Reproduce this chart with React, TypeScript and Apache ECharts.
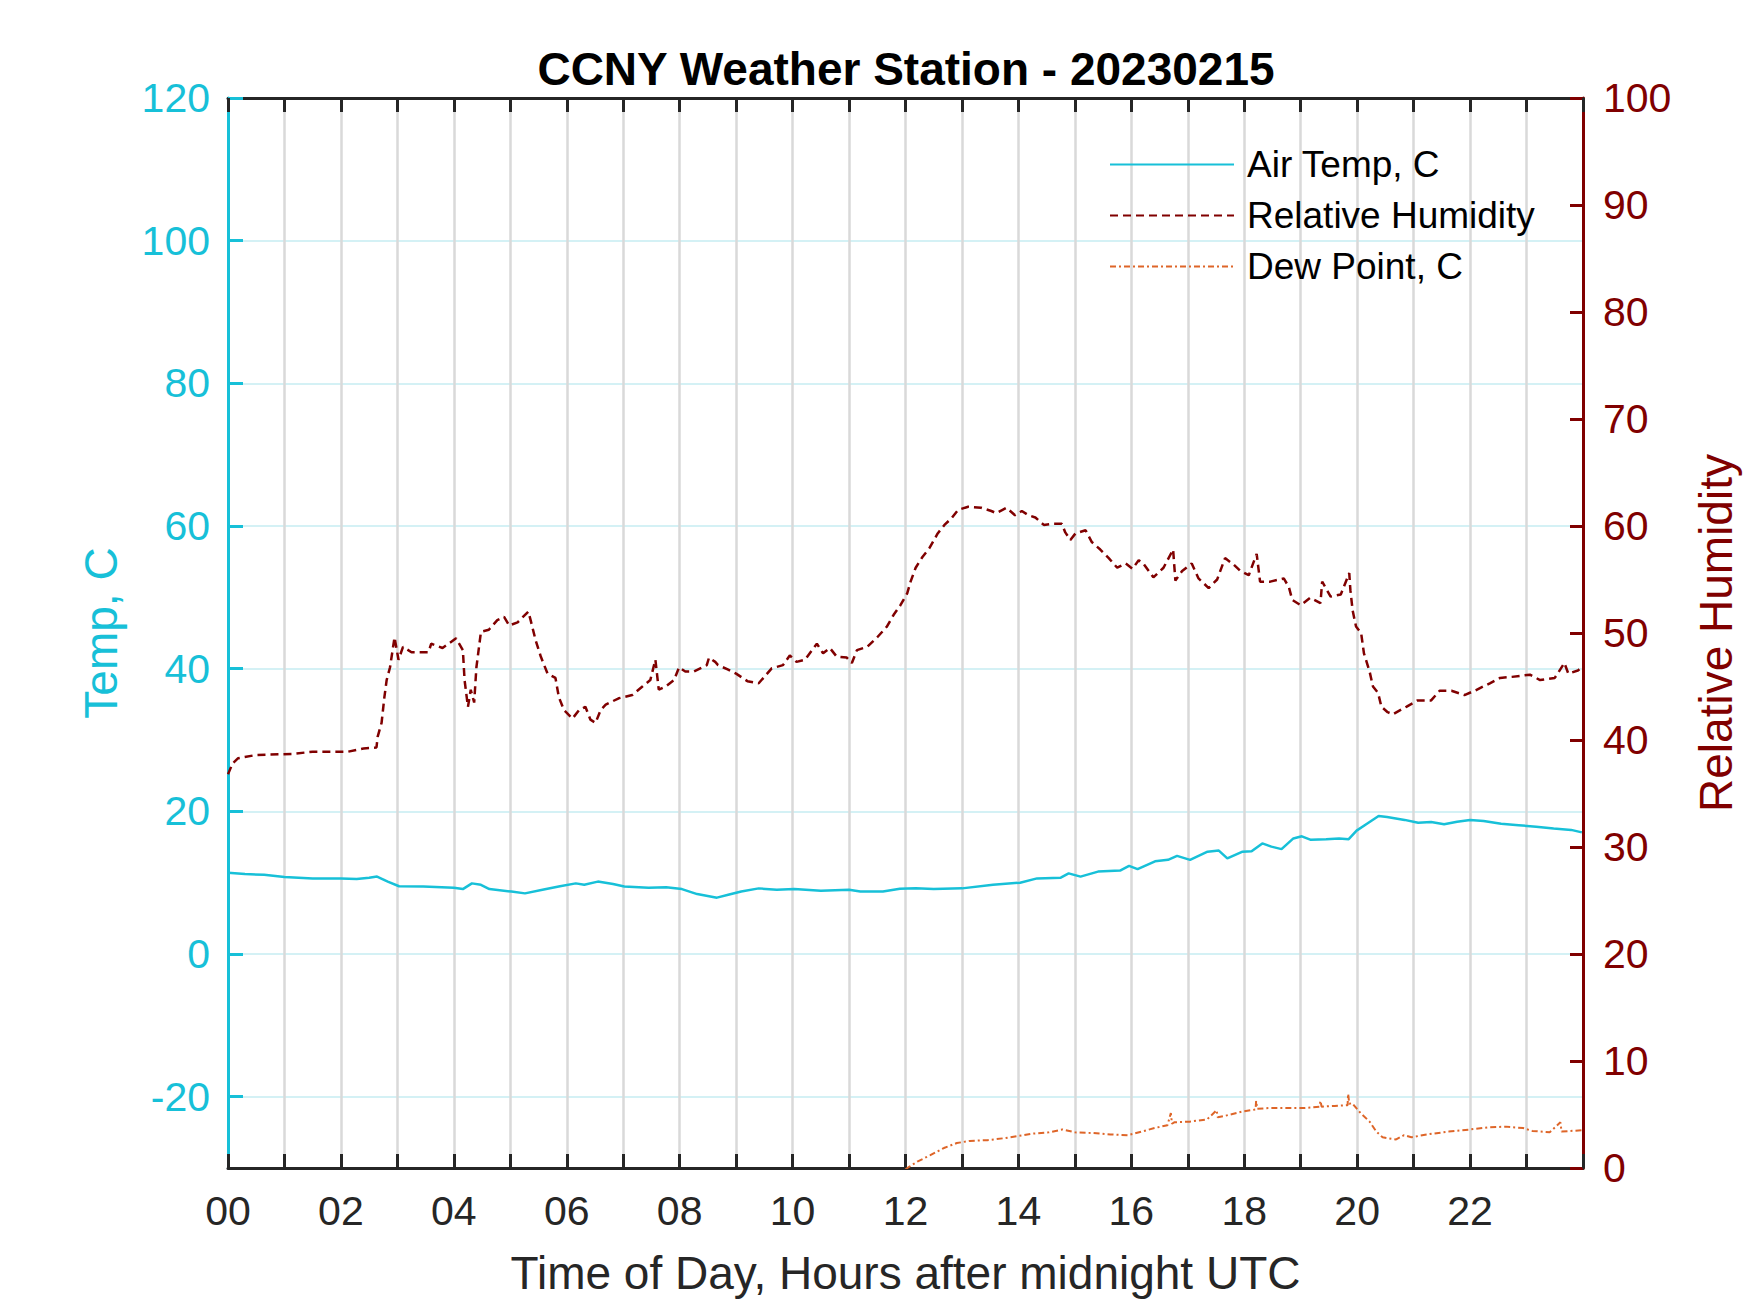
import React, { useEffect, useRef } from "react";
import * as echarts from "echarts";

const FONT = "Liberation Sans, Arial, Helvetica, sans-serif";
const CYAN = "#17C0D8";
const MAROON = "#800000";
const ORANGE = "#DE6528";

const titleText = "CCNY Weather Station - 20230215";
const xName = "Time of Day, Hours after midnight UTC";
const leftName = "Temp, C";
const rightName = "Relative Humidity";
const seriesNames = ["Air Temp, C", "Relative Humidity", "Dew Point, C"];

const tempTicks = [-20, 0, 20, 40, 60, 80, 100, 120];
const xLabelHours = [0, 2, 4, 6, 8, 10, 12, 14, 16, 18, 20, 22];

const tempHours = [
  0.0, 0.3, 0.64, 1.0, 1.5, 2.0, 2.28, 2.5, 2.64, 2.83, 3.03, 3.46, 4.0, 4.16, 4.32, 4.48, 4.63, 5.02, 5.26,
  5.57, 5.88, 6.16, 6.31, 6.55, 6.82, 7.02, 7.45, 7.76, 8.04, 8.31, 8.66, 8.86, 9.09, 9.4, 9.72, 10.03, 10.5,
  11.0, 11.2, 11.6, 11.9, 12.18, 12.5, 13.0, 13.55, 14.03, 14.33, 14.75, 14.89, 15.1, 15.41, 15.8, 15.96,
  16.11, 16.42, 16.65, 16.81, 17.04, 17.35, 17.55, 17.7, 17.97, 18.13, 18.32, 18.48, 18.66, 18.87, 19.02,
  19.18, 19.45, 19.68, 19.85, 19.99, 20.18, 20.38, 20.53, 20.84, 21.08, 21.31, 21.54, 21.77, 22.0, 22.24,
  22.55, 22.86, 23.17, 23.48, 23.79, 23.98,
];
const tempValues = [
  11.4, 11.2, 11.1, 10.8, 10.6, 10.6, 10.5, 10.7, 10.85, 10.15, 9.5, 9.45, 9.3, 9.1, 9.9, 9.7, 9.1, 8.75, 8.5,
  9.0, 9.5, 9.9, 9.7, 10.15, 9.8, 9.45, 9.3, 9.35, 9.1, 8.4, 7.9, 8.3, 8.75, 9.2, 9.0, 9.1, 8.85,
  9.0, 8.75, 8.75, 9.15, 9.2, 9.1, 9.2, 9.7, 10.0, 10.6, 10.7, 11.3, 10.85, 11.55, 11.7, 12.35,
  11.9, 13.0, 13.2, 13.75, 13.2, 14.35, 14.5, 13.4, 14.35, 14.4, 15.5, 15.05, 14.7, 16.2, 16.5,
  16.0, 16.1, 16.2, 16.1, 17.3, 18.3, 19.35, 19.2, 18.8, 18.4, 18.5, 18.2, 18.55, 18.8, 18.65,
  18.25, 18.05, 17.85, 17.6, 17.4, 17.05,
];

const rhHours = [
  0.0, 0.08, 0.18, 0.5, 1.13, 1.5, 2.12, 2.4, 2.63, 2.65, 2.72, 2.77, 2.81, 2.87, 2.95, 3.02, 3.1, 3.25,
  3.55, 3.6, 3.8, 4.04, 4.16, 4.19, 4.25, 4.3, 4.36, 4.4, 4.48, 4.62, 4.77, 4.89, 4.98, 5.13, 5.32, 5.36,
  5.45, 5.54, 5.66, 5.8, 5.86, 5.95, 6.1, 6.22, 6.33, 6.42, 6.51, 6.6, 6.69, 6.92, 7.16, 7.34, 7.48, 7.57,
  7.63, 7.75, 7.9, 7.99, 8.1, 8.25, 8.48, 8.52, 8.63, 8.68, 8.85, 9.0, 9.2, 9.4, 9.63, 9.83, 9.95, 10.07,
  10.22, 10.43, 10.54, 10.66, 10.78, 10.96, 11.05, 11.14, 11.32, 11.5, 11.67, 11.79, 11.91, 12.03, 12.09,
  12.18, 12.3, 12.42, 12.57, 12.69, 12.81, 12.93, 13.11, 13.34, 13.52, 13.61, 13.79, 13.94, 14.06, 14.18,
  14.3, 14.45, 14.6, 14.77, 14.83, 14.92, 15.01, 15.19, 15.3, 15.45, 15.6, 15.75, 15.9, 16.02, 16.13,
  16.21, 16.39, 16.57, 16.74, 16.78, 16.9, 17.07, 17.19, 17.37, 17.52, 17.66, 17.81, 17.93, 18.08, 18.22,
  18.28, 18.46, 18.7, 18.79, 18.85, 19.0, 19.17, 19.35, 19.38, 19.53, 19.71, 19.86, 19.88, 19.92, 19.98,
  20.07, 20.12, 20.22, 20.28, 20.37, 20.43, 20.54, 20.63, 20.87, 21.07, 21.31, 21.46, 21.67, 21.9, 22.08,
  22.35, 22.53, 22.74, 23.06, 23.24, 23.5, 23.67, 23.74, 23.91, 23.98,
];
const rhValues = [
  36.8, 37.8, 38.3, 38.6, 38.7, 38.9, 38.9, 39.2, 39.3, 40.3, 41.6, 44.0, 45.6, 46.8, 49.6, 47.5, 48.7, 48.2,
  48.2, 49.0, 48.6, 49.5, 48.4, 45.6, 43.1, 44.7, 43.5, 46.8, 50.1, 50.3, 51.2, 51.5, 50.7, 51.0, 52.0, 51.2,
  49.3, 47.8, 46.2, 45.8, 44.0, 42.8, 42.0, 42.8, 43.1, 41.9, 41.6, 42.8, 43.3, 43.9, 44.2, 45.0, 45.6, 47.5,
  44.7, 45.0, 45.6, 46.8, 46.4, 46.4, 47.0, 47.7, 47.3, 47.0, 46.6, 46.2, 45.5, 45.3, 46.7, 47.0, 47.9, 47.3,
  47.5, 49.0, 48.1, 48.6, 47.8, 47.7, 47.2, 48.4, 48.7, 49.6, 50.6, 51.7, 52.6, 53.7, 54.8,
  56.1, 57.1, 57.9, 59.3, 60.1, 60.7, 61.5, 61.8, 61.7, 61.4, 61.2, 61.7, 61.0, 61.4, 61.0,
  60.8, 60.1, 60.2, 60.2, 59.4, 58.7, 59.3, 59.6, 58.5, 57.8, 57.0, 56.1, 56.5, 56.0, 56.8,
  56.5, 55.2, 56.1, 57.8, 54.9, 55.8, 56.5, 55.1, 54.2, 55.0, 57.0, 56.4, 55.8, 55.4, 57.4,
  54.8, 54.8, 55.1, 54.3, 53.1, 52.6, 53.3, 52.8, 54.8, 53.4, 53.6, 55.6, 54.0, 52.1, 50.6,
  50.0, 48.1, 46.4, 45.0, 44.4, 43.1, 42.6, 42.4, 43.1, 43.7, 43.7, 44.6, 44.6, 44.2, 44.6,
  45.3, 45.8, 45.9, 46.1, 45.6, 45.8, 47.2, 46.2, 46.5, 46.8,
];

const dewHours = [
  12.0, 12.05, 12.21, 12.44, 12.68, 12.91, 13.14, 13.45, 13.77, 14.0, 14.23, 14.54, 14.78, 15.0, 15.32,
  15.63, 15.94, 16.18, 16.41, 16.64, 16.7, 16.72, 16.76, 17.03, 17.34, 17.51, 17.53, 17.65, 17.96, 18.2,
  18.21, 18.23, 18.43, 18.74, 19.05, 19.33, 19.35, 19.37, 19.6, 19.83, 19.84, 19.86, 19.91, 20.06, 20.22,
  20.34, 20.45, 20.69, 20.83, 20.96, 21.23, 21.62, 22.0, 22.32, 22.63, 22.94, 23.1, 23.41, 23.6, 23.62,
  23.98,
];
const dewValues = [
  -30.2, -29.9, -29.1, -28.2, -27.2, -26.5, -26.2, -26.1, -25.8, -25.5, -25.2, -25.0, -24.6, -25.0, -25.1,
  -25.3, -25.4, -24.9, -24.4, -24.0, -22.3, -23.8, -23.6, -23.5, -23.2, -21.9, -22.9, -22.7, -22.1, -21.8,
  -20.6, -21.7, -21.6, -21.6, -21.6, -21.4, -20.6, -21.4, -21.3, -21.2, -19.6, -21.0, -20.9, -22.3, -23.5,
  -24.9, -25.7, -26.0, -25.4, -25.7, -25.3, -24.9, -24.6, -24.3, -24.2, -24.4, -24.8, -25.0, -23.6, -24.9,
  -24.7,
];

const pair = (xs: number[], ys: number[]) => xs.map((x, i) => [x, ys[i]]);

export default function App() {
  const ref = useRef<HTMLDivElement>(null);
  useEffect(() => {
    if (!ref.current) return;
    const chart = echarts.init(ref.current, undefined, { renderer: "svg" });
    const gridLeft = 228;
    const gridRight = 167;
    const gridTop = 98;
    const gridBottom = 145;
    chart.setOption({
      animation: false,
      backgroundColor: "#ffffff",
      textStyle: { fontFamily: FONT },
      graphic: [
        {
          type: "text",
          x: 906,
          y: 69,
          style: {
            text: titleText,
            font: `bold 46px ${FONT}`,
            fill: "#000000",
            align: "center",
            verticalAlign: "middle",
          },
        },
      ],
      grid: { left: gridLeft, right: gridRight, top: gridTop, bottom: gridBottom, containLabel: false },
      legend: {
        orient: "vertical",
        left: 1104,
        top: 141,
        itemWidth: 124,
        itemHeight: 14,
        itemGap: 14,
        data: seriesNames,
        itemStyle: { opacity: 0, color: "rgba(0,0,0,0)", borderWidth: 0 },
        textStyle: { fontSize: 37, lineHeight: 37, color: "#000000", fontFamily: FONT, padding: [0, 0, 0, 8] },
      },
      xAxis: [
        {
          type: "value",
          min: 0,
          max: 24,
          interval: 1,
          position: "bottom",
          name: xName,
          nameLocation: "middle",
          nameGap: 82,
          nameTextStyle: { fontSize: 46, color: "#262626", fontFamily: FONT },
          axisLine: { show: true, onZero: false, lineStyle: { color: "#262626", width: 3 } },
          axisTick: { show: true, inside: true, length: 14, lineStyle: { color: "#262626", width: 3 } },
          axisLabel: {
            color: "#262626",
            fontSize: 41,
            margin: 22,
            fontFamily: FONT,
            formatter: (v: number) =>
              xLabelHours.includes(v) ? String(v).padStart(2, "0") : "",
          },
          splitLine: { show: true, lineStyle: { color: "#D9D9D9", width: 2.5 } },
        },
        {
          type: "value",
          min: 0,
          max: 24,
          interval: 1,
          position: "top",
          axisLine: { show: true, onZero: false, lineStyle: { color: "#262626", width: 3 } },
          axisTick: { show: true, inside: true, length: 14, lineStyle: { color: "#262626", width: 3 } },
          axisLabel: { show: false },
          splitLine: { show: false },
        },
      ],
      yAxis: [
        {
          type: "value",
          min: -30,
          max: 120,
          splitNumber: 8,
          position: "left",
          name: leftName,
          nameLocation: "middle",
          nameRotate: 90,
          nameGap: 104,
          nameTextStyle: { fontSize: 46, color: CYAN, fontFamily: FONT },
          axisLine: { show: true, onZero: false, lineStyle: { color: CYAN, width: 3 } },
          axisTick: {
            show: true,
            inside: true,
            length: 15,
            customValues: tempTicks,
            lineStyle: { color: CYAN, width: 3 },
          },
          axisLabel: {
            color: CYAN,
            fontSize: 41,
            margin: 18,
            fontFamily: FONT,
            customValues: tempTicks,
          },
          splitLine: { show: true, lineStyle: { color: "#D4F1F5", width: 2 } },
        },
        {
          type: "value",
          min: 0,
          max: 100,
          interval: 10,
          position: "right",
          name: rightName,
          nameLocation: "middle",
          nameRotate: 90,
          nameGap: 110,
          nameTextStyle: { fontSize: 46, color: MAROON, fontFamily: FONT },
          axisLine: { show: true, onZero: false, lineStyle: { color: MAROON, width: 3 } },
          axisTick: { show: true, inside: true, length: 13, lineStyle: { color: MAROON, width: 3 } },
          axisLabel: { color: MAROON, fontSize: 41, margin: 20, fontFamily: FONT },
          splitLine: { show: false },
        },
      ],
      series: [
        {
          name: seriesNames[0],
          type: "line",
          xAxisIndex: 0,
          yAxisIndex: 0,
          symbol: "none",
          data: pair(tempHours, tempValues),
          lineStyle: { color: CYAN, width: 2.5, type: "solid" },
          itemStyle: { color: CYAN },
          z: 3,
        },
        {
          name: seriesNames[1],
          type: "line",
          xAxisIndex: 0,
          yAxisIndex: 1,
          symbol: "none",
          data: pair(rhHours, rhValues),
          lineStyle: { color: MAROON, width: 2.5, type: [8, 5] },
          itemStyle: { color: MAROON },
          z: 3,
        },
        {
          name: seriesNames[2],
          type: "line",
          xAxisIndex: 0,
          yAxisIndex: 0,
          symbol: "none",
          data: pair(dewHours, dewValues),
          lineStyle: { color: ORANGE, width: 2, type: [6, 3, 2, 3] },
          itemStyle: { color: ORANGE },
          z: 3,
        },
      ],
    });
    return () => chart.dispose();
  }, []);
  return (
    <div
      ref={ref}
      style={{ position: "absolute", left: 0, top: 0, width: 1750, height: 1313, background: "#fff" }}
    />
  );
}
